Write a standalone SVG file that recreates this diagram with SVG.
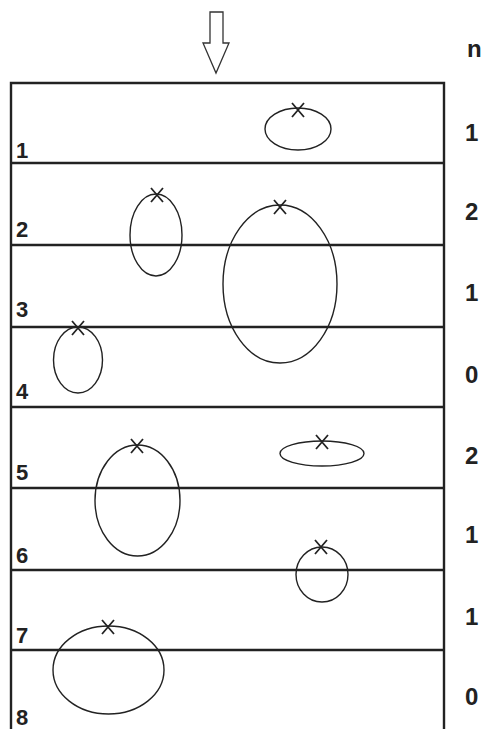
<svg xmlns="http://www.w3.org/2000/svg" width="483" height="729" viewBox="0 0 483 729">
<style>
.frame{fill:none;stroke:#222;stroke-width:2.4}
.div{stroke:#222;stroke-width:2.4}
.ell{fill:none;stroke:#222;stroke-width:1.4}
.x{stroke:#222;stroke-width:1.8;fill:none}
.lbl{font-family:"Liberation Sans",Arial,sans-serif;font-weight:bold;font-size:22px;fill:#222}
.n{font-family:"Liberation Sans",Arial,sans-serif;font-weight:bold;font-size:24px;fill:#222}
</style>
<rect width="483" height="729" fill="#fff"/>
<g id="arrow">
<path d="M210,12 H223 V43 H229 L216,73 L203,43 H210 Z" fill="none" stroke="#333" stroke-width="1.3"/>
</g>
<g id="frame">
<path class="frame" d="M11,729 V83 H444 V729"/>
<line class="div" x1="11" y1="163" x2="444" y2="163"/>
<line class="div" x1="11" y1="245" x2="444" y2="245"/>
<line class="div" x1="11" y1="327" x2="444" y2="327"/>
<line class="div" x1="11" y1="407" x2="444" y2="407"/>
<line class="div" x1="11" y1="488" x2="444" y2="488"/>
<line class="div" x1="11" y1="570" x2="444" y2="570"/>
<line class="div" x1="11" y1="650" x2="444" y2="650"/>
</g>
<g id="layer-labels">
<text class="lbl" x="16" y="158">1</text>
<text class="lbl" x="16" y="237">2</text>
<text class="lbl" x="16" y="317">3</text>
<text class="lbl" x="16" y="399">4</text>
<text class="lbl" x="16" y="480">5</text>
<text class="lbl" x="16" y="563">6</text>
<text class="lbl" x="16" y="643">7</text>
<text class="lbl" x="16" y="725">8</text>
</g>
<g id="counts">
<text class="n" x="467" y="57">n</text>
<text class="n" x="465" y="141">1</text>
<text class="n" x="465" y="220">2</text>
<text class="n" x="465" y="301">1</text>
<text class="n" x="465" y="383">0</text>
<text class="n" x="465" y="464">2</text>
<text class="n" x="465" y="543">1</text>
<text class="n" x="465" y="625">1</text>
<text class="n" x="465" y="705">0</text>
</g>
<defs>
<path id="xm" d="M-6,-7 L6,7 M6,-7 L-6,7" class="x"/>
</defs>
<g id="e1"><ellipse class="ell" cx="298" cy="129" rx="33" ry="21"/><use href="#xm" x="298" y="110"/></g>
<g id="e2"><ellipse class="ell" cx="156" cy="235" rx="26" ry="41"/><use href="#xm" x="157" y="195"/></g>
<g id="e3"><ellipse class="ell" cx="280" cy="284" rx="57" ry="79"/><use href="#xm" x="280" y="207"/></g>
<g id="e4"><ellipse class="ell" cx="78" cy="360" rx="24.5" ry="33"/><use href="#xm" x="78" y="328"/></g>
<g id="e5"><ellipse class="ell" cx="137.5" cy="500.5" rx="42.5" ry="55.5"/><use href="#xm" x="137" y="446"/></g>
<g id="e6"><ellipse class="ell" cx="322" cy="453.5" rx="42" ry="12.5"/><use href="#xm" x="322" y="442"/></g>
<g id="e7"><ellipse class="ell" cx="322" cy="574.5" rx="26" ry="27.5"/><use href="#xm" x="321" y="547"/></g>
<g id="e8"><ellipse class="ell" cx="108.5" cy="670" rx="55.5" ry="44"/><use href="#xm" x="108" y="627"/></g>
</svg>
